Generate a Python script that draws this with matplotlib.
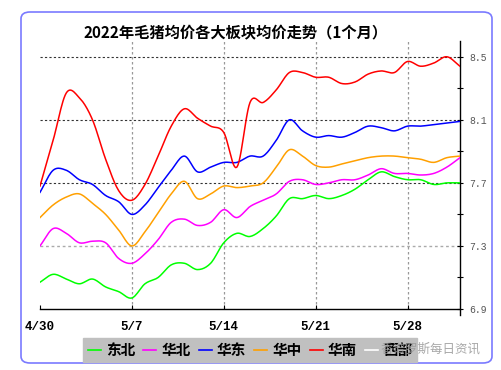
import matplotlib
matplotlib.use("Agg")
import matplotlib.pyplot as plt
from matplotlib.patches import FancyBboxPatch
from matplotlib.lines import Line2D
import numpy as np

plt.rcParams['font.family'] = ['Noto Sans CJK SC', 'DejaVu Sans']

title = "2022年毛猪均价各大板块均价走势（1个月）"
days = list(range(33))  # 4/30 .. 6/1
xtick_pos = [0, 7, 14, 21, 28]
xtick_labels = ["4/30", "5/7", "5/14", "5/21", "5/28"]
ytick_major = [6.9, 7.3, 7.7, 8.1, 8.5]
ytick_minor = [7.1, 7.5, 7.9, 8.3]

names = ["东北", "华北", "华东", "华中", "华南", "西部"]
colors = ["#00ff00", "#ff00ff", "#0000ff", "#ffa000", "#ff0000", "#ffffff"]

dongbei = [7.07, 7.12, 7.09, 7.06, 7.09, 7.04, 7.01, 6.97, 7.06, 7.10, 7.18,
           7.19, 7.15, 7.19, 7.32, 7.38, 7.36, 7.41, 7.49, 7.60, 7.60, 7.62,
           7.60, 7.62, 7.66, 7.72, 7.77, 7.74, 7.72, 7.72, 7.69, 7.70, 7.70]
huabei = [7.30, 7.41, 7.38, 7.32, 7.33, 7.32, 7.22, 7.19, 7.25, 7.34, 7.45,
          7.47, 7.43, 7.45, 7.53, 7.48, 7.55, 7.59, 7.63, 7.71, 7.72, 7.69,
          7.70, 7.72, 7.72, 7.75, 7.79, 7.76, 7.76, 7.75, 7.76, 7.80, 7.86]
huadong = [7.64, 7.78, 7.78, 7.72, 7.69, 7.62, 7.58, 7.50, 7.56, 7.67, 7.78,
           7.87, 7.77, 7.80, 7.83, 7.83, 7.87, 7.87, 7.97, 8.10, 8.03, 7.99,
           8.00, 7.99, 8.02, 8.06, 8.05, 8.03, 8.06, 8.06, 8.07, 8.08, 8.09]
huazhong = [7.48, 7.56, 7.61, 7.63, 7.57, 7.50, 7.40, 7.30, 7.39, 7.51, 7.63,
            7.71, 7.60, 7.63, 7.68, 7.67, 7.68, 7.70, 7.80, 7.91, 7.87, 7.81,
            7.80, 7.82, 7.84, 7.86, 7.87, 7.87, 7.86, 7.85, 7.83, 7.86, 7.87]
huanan = [7.68, 7.97, 8.27, 8.24, 8.10, 7.85, 7.65, 7.59, 7.69, 7.87, 8.06,
          8.17, 8.11, 8.06, 8.02, 7.80, 8.21, 8.21, 8.29, 8.40, 8.40, 8.37,
          8.37, 8.33, 8.34, 8.39, 8.41, 8.40, 8.47, 8.44, 8.46, 8.50, 8.44]
series = [dongbei, huabei, huadong, huazhong, huanan]


def smooth_path(x, y, steps=12):
    """Catmull-Rom rendering of a polyline (drawing style only)."""
    x = np.asarray(x, float)
    y = np.asarray(y, float)
    px = np.concatenate([[2 * x[0] - x[1]], x, [2 * x[-1] - x[-2]]])
    py = np.concatenate([[2 * y[0] - y[1]], y, [2 * y[-1] - y[-2]]])
    t = np.linspace(0, 1, steps, endpoint=False)
    xs, ys = [], []
    for i in range(1, len(px) - 2):
        for arr, out in ((px, xs), (py, ys)):
            p0, p1, p2, p3 = arr[i - 1], arr[i], arr[i + 1], arr[i + 2]
            out.extend(0.5 * ((2 * p1) + (-p0 + p2) * t
                              + (2 * p0 - 5 * p1 + 4 * p2 - p3) * t ** 2
                              + (-p0 + 3 * p1 - 3 * p2 + p3) * t ** 3))
    xs.append(x[-1])
    ys.append(y[-1])
    return xs, ys


W, H = 502, 370
fig = plt.figure(figsize=(W / 100, H / 100), dpi=100)
fig.patch.set_facecolor("white")

border = FancyBboxPatch((21 / W, 1 - 363 / H), (492 - 21) / W, (363 - 12) / H,
                        boxstyle="round,pad=0,rounding_size=0.018",
                        transform=fig.transFigure, fill=False,
                        edgecolor="#7a7aff", linewidth=1.2)
fig.patches.append(border)

ax = fig.add_axes([40 / W, 1 - 309 / H, (460 - 40) / W, (309 - 41) / H])
ax.set_xlim(0, 32)
ax.set_ylim(6.9, 8.6)

for s, c in zip(series, colors):
    sx, sy = smooth_path(days, s)
    ax.plot(sx, sy, color=c, linewidth=1.1, solid_joinstyle="round", zorder=3)

for v in [7.7, 8.1, 8.5]:
    ax.axhline(v, color="#333333", linestyle=(0, (2, 2)), linewidth=0.8, zorder=1)
ax.axhline(7.3, color="#aaaaaa", linestyle=(0, (2, 2)), linewidth=1.0, zorder=1)
for p in xtick_pos[1:]:
    ax.axvline(p, color="#999999", linestyle=(0, (2, 2)), linewidth=0.9, zorder=1)

for sp in ["top", "left"]:
    ax.spines[sp].set_visible(False)
ax.spines["right"].set_bounds(6.86, 8.6)
ax.spines["right"].set_linewidth(1.0)
ax.spines["bottom"].set_linewidth(1.0)

ax.set_xticks(xtick_pos)
ax.set_xticklabels(xtick_labels, fontfamily="Liberation Mono", fontweight="bold",
                   fontsize=9)
ax.tick_params(axis="x", direction="in", length=3, pad=9, width=0.8)

ax.yaxis.tick_right()
ax.set_yticks(ytick_major)
ax.set_yticklabels([f"{v:.1f}" for v in ytick_major], fontfamily="Liberation Mono",
                   fontsize=7, color="#555555")
ax.set_yticks(ytick_minor, minor=True)
ax.tick_params(axis="y", which="both", direction="inout", length=5, width=0.8, pad=4)

fig.text(236 / W, 1 - 32 / H, title, ha="center", va="center", fontsize=11,
         fontweight="bold")

handles = [Line2D([0], [0], color=c, linewidth=1.2) for c in colors]
leg = fig.legend(handles, names, loc="center", bbox_to_anchor=(250 / W, 1 - 350 / H),
                 ncol=6, frameon=True, fancybox=False, handlelength=0.9,
                 handletextpad=0.35, columnspacing=0.55, borderpad=0.3,
                 borderaxespad=0,
                 prop={"family": "Noto Sans CJK SC", "weight": "bold", "size": 10.5})
leg.get_frame().set_facecolor("#c0c0c0")
leg.get_frame().set_edgecolor("#c0c0c0")
leg.get_frame().set_alpha(1)

fig.text(481 / W, 1 - 349 / H, "香谱罗斯每日资讯", ha="right", va="center",
         fontsize=9, color="#999999", alpha=0.85, zorder=10)

fig.savefig("out.png", dpi=100)
